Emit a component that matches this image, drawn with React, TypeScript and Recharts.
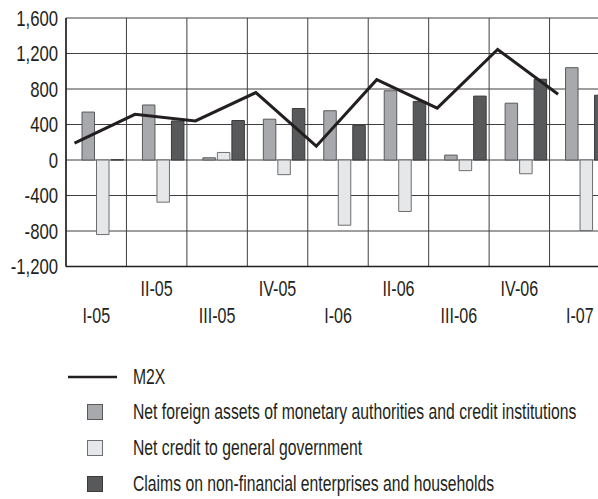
import React from 'react';
import {
  ComposedChart,
  Bar,
  Line,
  XAxis,
  YAxis,
  CartesianGrid,
  Legend,
} from 'recharts';

const quarters = ['I-05', 'II-05', 'III-05', 'IV-05', 'I-06', 'II-06', 'III-06', 'IV-06', 'I-07'];
const m2x = [190, 515, 440, 760, 155, 905, 585, 1245, 740];
const netForeignAssets = [540, 620, 25, 460, 555, 780, 55, 640, 1040];
const netCreditGov = [-840, -475, 85, -165, -735, -580, -120, -155, -795];
const claimsEnterprises = [3, 440, 445, 580, 390, 660, 720, 910, 730];
const yTicks = [-1200, -800, -400, 0, 400, 800, 1200, 1600];

// no condensed font installed, so Liberation Sans is squeezed horizontally
const FONT = "'Liberation Sans', Arial, sans-serif";
const INK = '#231f20';

const series = [
  { key: 'nfa', name: 'Net foreign assets of monetary authorities and credit institutions', fill: '#a7a9ac', stroke: '#58595b' },
  { key: 'gov', name: 'Net credit to general government', fill: '#e6e7e8', stroke: '#6d6e71' },
  { key: 'claims', name: 'Claims on non-financial enterprises and households', fill: '#58595b', stroke: '#3a3a3c' },
];

const data = quarters.map((q, i) => ({
  quarter: q,
  m2x: m2x[i],
  nfa: netForeignAssets[i],
  gov: netCreditGov[i],
  claims: claimsEnterprises[i],
}));

const fmt = (v: number) => v.toLocaleString('en-US');

const QuarterTick = (props: any) => {
  const { x, y, payload, index } = props;
  const low = index % 2 === 0;
  return (
    <text
      transform={`translate(${x},${y + (low ? 56 : 29.5)}) scale(0.73,1)`}
      textAnchor="middle"
      fontSize={22}
      fontFamily={FONT}
      fill={INK}
    >
      {payload.value}
    </text>
  );
};

const ValueTick = (props: any) => {
  const { x, y, payload } = props;
  return (
    <text
      transform={`translate(${x},${y + 7.8}) scale(0.76,1)`}
      textAnchor="end"
      fontSize={22}
      fontFamily={FONT}
      fill={INK}
    >
      {fmt(payload.value)}
    </text>
  );
};

const renderLegend = () => {
  const rows = [{ key: 'm2x', name: 'M2X', fill: '', stroke: '' }, ...series];
  return (
    <div style={{ fontFamily: FONT, fontSize: 22, color: INK }}>
      {rows.map((r) => (
        <div key={r.key} style={{ display: 'flex', alignItems: 'center', height: 35.6 }}>
          <svg width={133} height={20} style={{ flexShrink: 0 }}>
            {r.key === 'm2x' ? (
              <line x1={68} x2={117} y1={10} y2={10} stroke={INK} strokeWidth={2.5} />
            ) : (
              <rect x={87.5} y={2.5} width={15} height={15} fill={r.fill} stroke={r.stroke} strokeWidth={1} />
            )}
          </svg>
          <span
            style={{
              display: 'inline-block',
              whiteSpace: 'nowrap',
              transform: 'scaleX(0.715)',
              transformOrigin: 'left center',
            }}
          >
            {r.name}
          </span>
        </div>
      ))}
    </div>
  );
};

export default function App() {
  return (
    <div
      style={{
        position: 'fixed',
        left: 0,
        top: 0,
        width: 598,
        height: 499,
        overflow: 'hidden',
        background: '#fff',
      }}
    >
      <ComposedChart
        width={620}
        height={499}
        data={data}
        margin={{ top: 18, right: 10, left: 0, bottom: 172.5 }}
        barSize={12.5}
        barGap={2}
      >
        <CartesianGrid
          xAxisId="labels"
          stroke="#3f3f3f"
          strokeWidth={1}
          verticalCoordinatesGenerator={({ offset }: any) =>
            Array.from({ length: quarters.length + 1 }, (_, k) => offset.left + (k * offset.width) / quarters.length)
          }
        />
        <XAxis
          xAxisId="labels"
          dataKey="quarter"
          height={60}
          interval={0}
          tickSize={0}
          tickMargin={0}
          tickLine={false}
          axisLine={{ stroke: INK, strokeWidth: 1.5 }}
          tick={<QuarterTick />}
        />
        <XAxis xAxisId="bars" dataKey="quarter" hide height={0} padding={{ left: 7, right: -7 }} />
        <XAxis xAxisId="line" dataKey="quarter" hide height={0} padding={{ left: -21.7, right: 21.7 }} />
        <YAxis
          width={66}
          domain={[-1200, 1600]}
          ticks={yTicks}
          interval={0}
          tickSize={0}
          tickMargin={8}
          tickLine={false}
          axisLine={{ stroke: INK, strokeWidth: 1.5 }}
          tick={<ValueTick />}
        />
        {series.map((s) => (
          <Bar
            key={s.key}
            xAxisId="bars"
            dataKey={s.key}
            name={s.name}
            fill={s.fill}
            stroke={s.stroke}
            strokeWidth={1}
            isAnimationActive={false}
          />
        ))}
        <Line
          xAxisId="line"
          dataKey="m2x"
          name="M2X"
          stroke={INK}
          strokeWidth={3}
          dot={false}
          activeDot={false}
          isAnimationActive={false}
        />
        <Legend
          layout="horizontal"
          verticalAlign="middle"
          align="center"
          content={renderLegend}
          wrapperStyle={{ top: 359, left: 0, width: 598 }}
        />
      </ComposedChart>
    </div>
  );
}
